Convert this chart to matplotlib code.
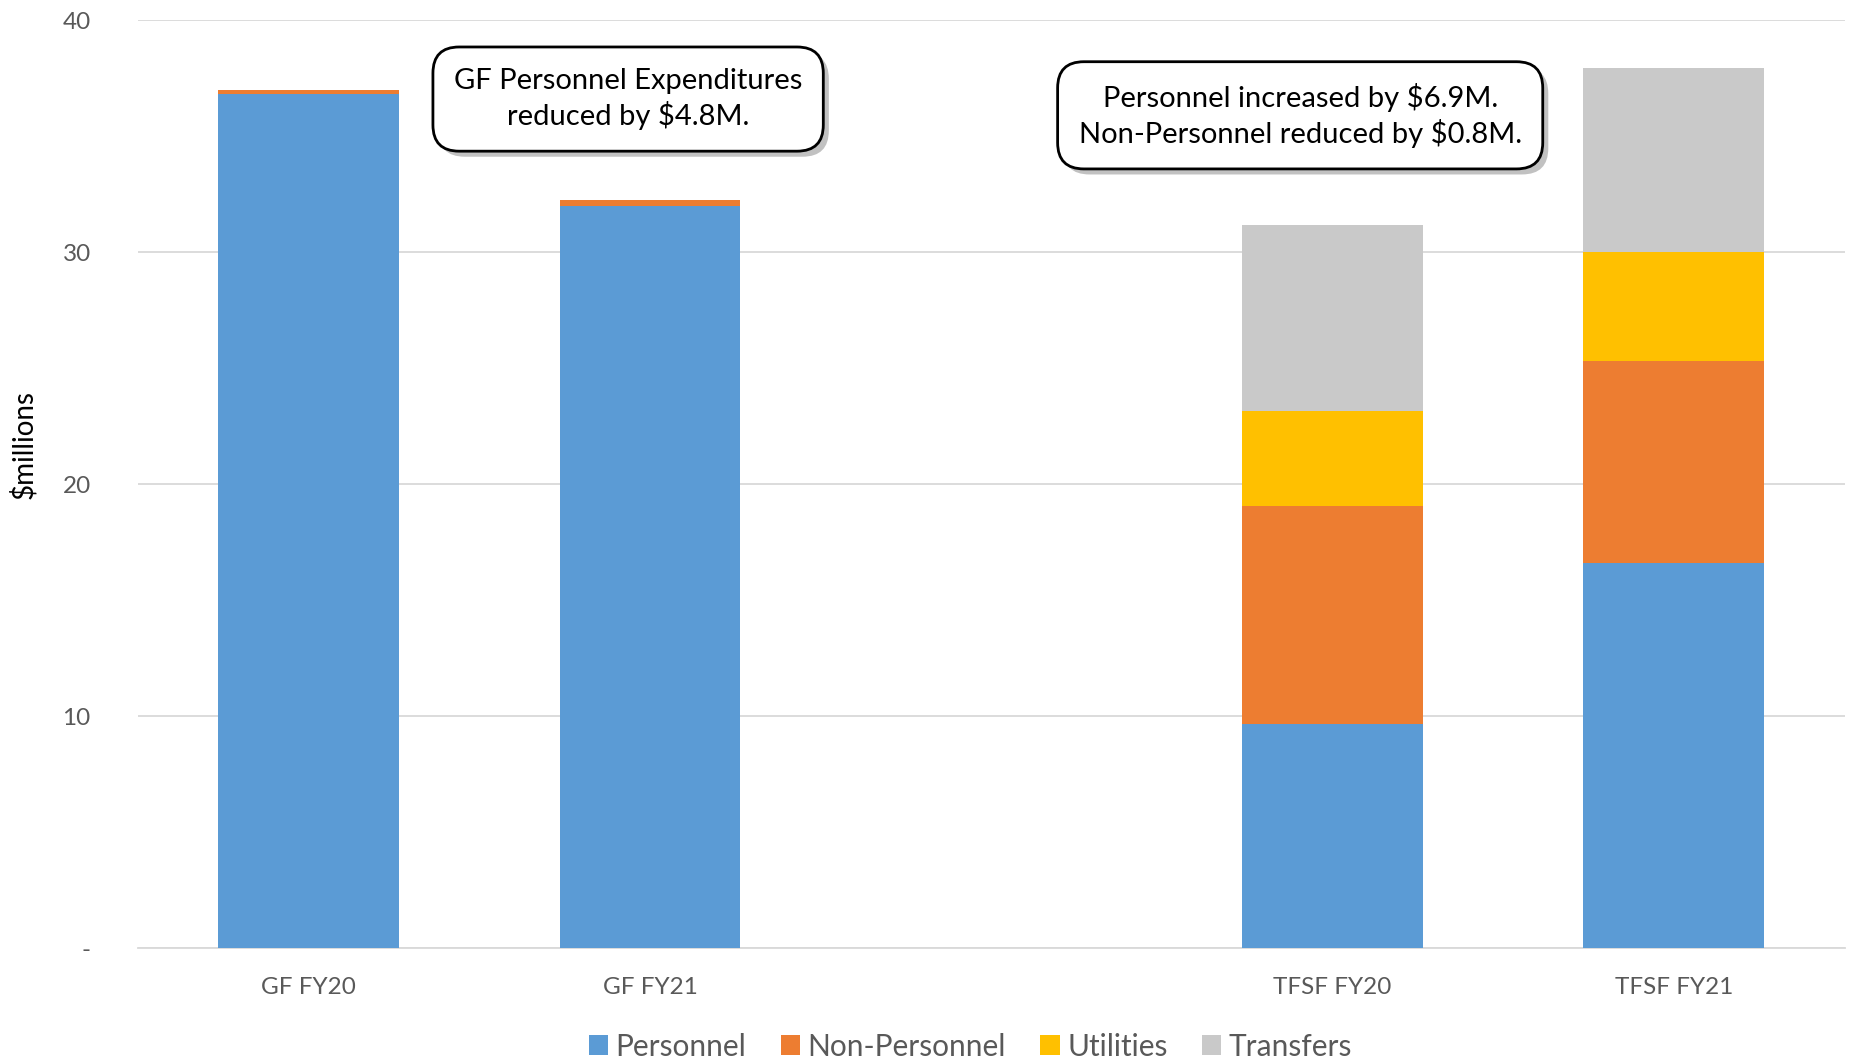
import matplotlib.pyplot as plt
import matplotlib.patheffects as pe
import numpy as np

plt.rcParams['font.family'] = ['Lato', 'DejaVu Sans']

categories = ['GF FY20', 'GF FY21', '', 'TFSF FY20', 'TFSF FY21']
personnel = [36.8, 32.0, 0, 9.65, 16.6]
non_personnel = [0.2, 0.25, 0, 9.4, 8.7]
utilities = [0, 0, 0, 4.1, 4.7]
transfers = [0, 0, 0, 8.0, 7.95]

series = [('Personnel', personnel, '#5B9BD5'),
          ('Non-Personnel', non_personnel, '#ED7D31'),
          ('Utilities', utilities, '#FFC000'),
          ('Transfers', transfers, '#C9C9C9')]

fig = plt.figure(figsize=(18.52, 10.64), dpi=100)
ax = fig.add_axes([0.0745, 0.109, 0.9215, 0.872])

x = np.arange(len(categories))
bottom = np.zeros(len(categories))
for name, vals, col in series:
    vals = np.array(vals)
    ax.bar(x, vals, width=0.53, bottom=bottom, color=col, label=name, zorder=3)
    bottom += vals

ax.set_xlim(-0.5, len(categories) - 0.5)
ax.set_ylim(0, 40)
ax.set_yticks([0, 10, 20, 30, 40])
ax.set_yticklabels(['-', '10', '20', '30', '40'])
ax.set_xticks(x)
ax.set_xticklabels(categories)
ax.tick_params(axis='both', length=0, labelsize=17.5, colors='#595959')
ax.tick_params(axis='x', pad=21)
ax.tick_params(axis='y', pad=34)
ax.grid(axis='y', color='#D9D9D9', linewidth=1.3, zorder=0)
for s in ['top', 'right', 'left']:
    ax.spines[s].set_visible(False)
ax.spines['bottom'].set_color('#D9D9D9')
ax.spines['bottom'].set_linewidth(1.3)
ax.set_ylabel('$millions', fontsize=20, color='black')
ax.yaxis.set_label_coords(-0.059, 0.543)

box = dict(boxstyle='round,pad=0.72,rounding_size=0.9', facecolor='white',
           edgecolor='black', linewidth=2)
notes = [(0.936, 36.6, 'GF Personnel Expenditures\nreduced by $4.8M.'),
         (2.905, 35.9, 'Personnel increased by $6.9M.\nNon-Personnel reduced by $0.8M.')]
for nx, ny, txt in notes:
    t = ax.text(nx, ny, txt, ha='center', va='center', fontsize=21,
                linespacing=1.3, bbox=box, zorder=5)
    t.get_bbox_patch().set_path_effects([
        pe.SimplePatchShadow(offset=(4, -4), shadow_rgbFace='#999999', alpha=0.6),
        pe.Normal()])

leg = fig.legend(loc='lower center', ncol=4, frameon=False, fontsize=21.5,
                 bbox_to_anchor=(0.524, -0.022), handlelength=0.65, handleheight=0.65,
                 handletextpad=0.25, columnspacing=1.15)
for text in leg.get_texts():
    text.set_color('#595959')

fig.savefig('out.png', dpi=100)
